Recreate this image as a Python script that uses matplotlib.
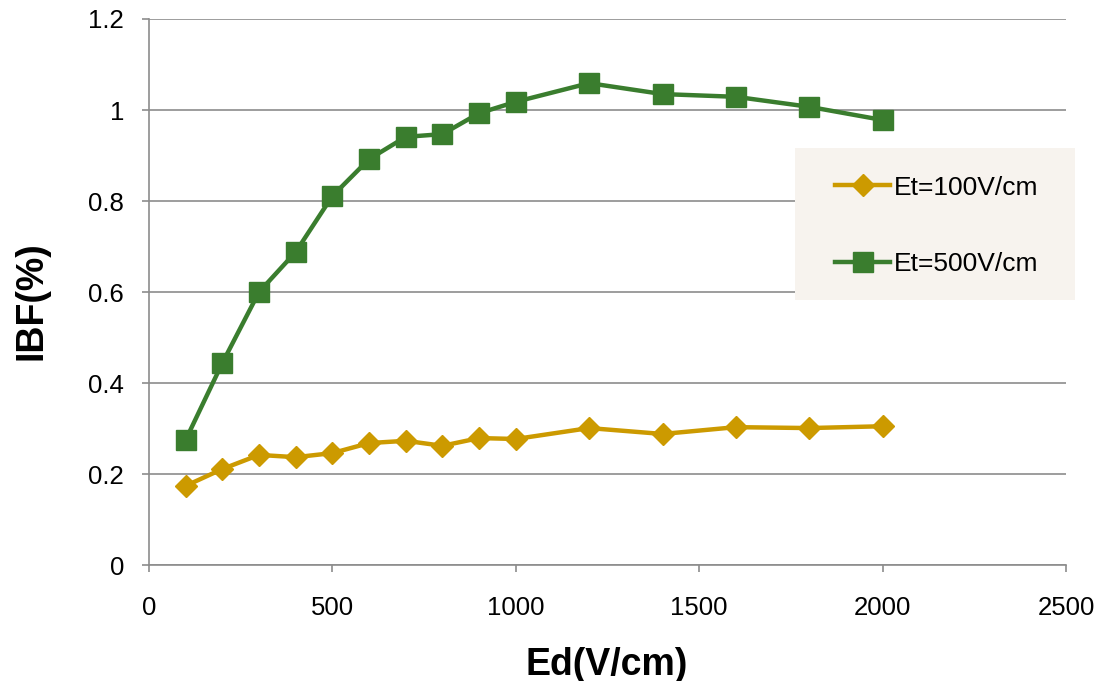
import matplotlib.pyplot as plt
from matplotlib.patches import Rectangle

plt.rcParams['font.family'] = ['Liberation Sans', 'DejaVu Sans']

ed = [100, 200, 300, 400, 500, 600, 700, 800, 900, 1000, 1200, 1400, 1600, 1800, 2000]
ibf_100 = [0.174, 0.211, 0.242, 0.237, 0.246, 0.268, 0.273, 0.262, 0.279, 0.277,
           0.301, 0.288, 0.303, 0.301, 0.305]
ibf_500 = [0.275, 0.444, 0.600, 0.688, 0.811, 0.892, 0.941, 0.947, 0.993, 1.018,
           1.059, 1.035, 1.029, 1.007, 0.978]

orange = "#CC9A00"
green = "#3A7D2E"
grid_c = "#8C8C8C"

fig = plt.figure(figsize=(10.97, 6.81), dpi=100)
ax = fig.add_axes([0.1358, 0.1703, 0.836, 0.8018])

ax.plot(ed, ibf_100, color=orange, linewidth=3.2, marker="D", markersize=11,
        label="Et=100V/cm")
ax.plot(ed, ibf_500, color=green, linewidth=3.2, marker="s", markersize=14,
        label="Et=500V/cm")

ax.set_xlim(0, 2500)
ax.set_ylim(0, 1.2)
ax.set_xticks([0, 500, 1000, 1500, 2000, 2500])
ax.set_yticks([0, 0.2, 0.4, 0.6, 0.8, 1, 1.2])
ax.set_yticklabels(["0", "0.2", "0.4", "0.6", "0.8", "1", "1.2"])
ax.yaxis.grid(True, color=grid_c, linewidth=1.2)
ax.set_axisbelow(True)
for s in ["top", "right"]:
    ax.spines[s].set_visible(False)
for s in ["left", "bottom"]:
    ax.spines[s].set_color(grid_c)
    ax.spines[s].set_linewidth(1.2)
ax.tick_params(axis="both", colors=grid_c, labelcolor="black", labelsize=18.5,
               length=5, width=1.2, direction="out")
ax.tick_params(axis="y", pad=13)
ax.tick_params(axis="x", pad=17)

ax.set_xlabel("Ed(V/cm)", fontsize=27, fontweight="bold")
ax.set_ylabel("IBF(%)", fontsize=27, fontweight="bold")
ax.xaxis.set_label_coords(0.4995, -0.15)
ax.yaxis.set_label_coords(-0.108, 0.485)

fig.patches.append(Rectangle((0.7247, 0.5595), 0.255, 0.2232,
                             transform=fig.transFigure, facecolor="#F7F3EE",
                             edgecolor="none", zorder=3))
leg = fig.legend(loc="center left", bbox_to_anchor=(0.7395, 0.668),
                 frameon=False, fontsize=19, handlelength=2.1,
                 handletextpad=0.15, labelspacing=2.0)
leg.set_zorder(4)

fig.savefig("out.png", dpi=100)
